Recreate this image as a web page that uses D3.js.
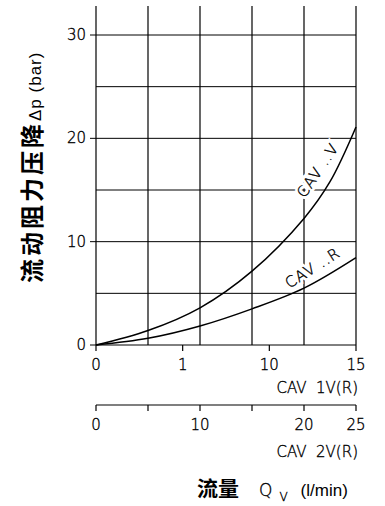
<!DOCTYPE html>
<html>
<head>
<meta charset="utf-8">
<script src="https://cdn.jsdelivr.net/npm/d3@7"></script>
<style>
  html, body { margin: 0; padding: 0; background: #fff; }
  svg { display: block; }
  .tick-font { font-family: "DejaVu Sans", sans-serif; font-weight: 200; font-size: 15px; fill: #000; stroke: #000; stroke-width: 0.35px; }
</style>
</head>
<body>
<svg id="chart" width="385" height="506"></svg>
<script>
// ---- data ----
const flowV = [0, 3, 6, 9, 12, 13.5, 15];           // CAV 1V(R) flow, l/min
const dpV = [0, 1.4, 3.6, 7.15, 12.25, 15.8, 21.1];  // CAV ..V pressure drop, bar
const flowR = [0, 3, 6, 9, 12, 15];
const dpR = [0, 0.65, 1.84, 3.5, 5.5, 8.45];         // CAV ..R pressure drop, bar

const yTicks = [0, 10, 20, 30];
const yTickLabels = ["0", "10", "20", "30"];
const yGrid = [0, 5, 10, 15, 20, 25, 30];
const yMax = 32.8;

const x1Grid = [0, 3, 6, 9, 12, 15];
const x1Ticks = [0, 5, 10, 15];
const x1TickLabels = ["0", "1", "10", "15"];
const x1Title = "CAV  1V(R)";

const x2Ticks = [0, 5, 10, 15, 20, 25];
const x2LabelTicks = [0, 10, 20, 25];
const x2TickLabels = ["0", "10", "20", "25"];
const x2Title = "CAV  2V(R)";

const curveLabels = [
  { text: "CAV ..V", x: 12.8, y: 16.9, angle: -56 },
  { text: "CAV ..R", x: 12.5, y: 7.45, angle: -32.5 }
];

// ---- layout ----
const svg = d3.select("#chart");
const left = 96, right = 356, bottom = 345, top30 = 35;
const x1 = d3.scaleLinear().domain([0, 15]).range([left, right]);
const x2 = d3.scaleLinear().domain([0, 25]).range([left, right]);
const y = d3.scaleLinear().domain([0, 30]).range([bottom, top30]);
const axis2Y = 405;

const g = svg.append("g");

// horizontal grid
g.selectAll("line.hgrid").data(yGrid).join("line")
  .attr("x1", left).attr("x2", right)
  .attr("y1", d => y(d)).attr("y2", d => y(d))
  .attr("stroke", "#000").attr("stroke-width", 1);

// vertical grid
g.selectAll("line.vgrid").data(x1Grid).join("line")
  .attr("x1", d => x1(d)).attr("x2", d => x1(d))
  .attr("y1", y(yMax)).attr("y2", y(0))
  .attr("stroke", "#000").attr("stroke-width", 1.2);

// y axis ticks (left)
g.selectAll("line.ytick").data(yTicks).join("line")
  .attr("x1", left - 6).attr("x2", left)
  .attr("y1", d => y(d)).attr("y2", d => y(d))
  .attr("stroke", "#000").attr("stroke-width", 1);
g.selectAll("text.ylab").data(yTicks).join("text")
  .attr("class", "tick-font")
  .attr("x", left - 10).attr("y", d => y(d))
  .attr("text-anchor", "end").attr("dominant-baseline", "central")
  .text((d, i) => yTickLabels[i]);

// axis 1 (bottom of plot)
g.selectAll("line.x1tick").data(x1Ticks).join("line")
  .attr("x1", d => x1(d)).attr("x2", d => x1(d))
  .attr("y1", bottom).attr("y2", bottom + 6)
  .attr("stroke", "#000").attr("stroke-width", 1.2);
g.selectAll("text.x1lab").data(x1Ticks).join("text")
  .attr("class", "tick-font")
  .attr("x", d => x1(d)).attr("y", bottom + 20)
  .attr("text-anchor", "middle").attr("dominant-baseline", "central")
  .text((d, i) => x1TickLabels[i]);
g.append("text").attr("class", "tick-font")
  .attr("x", right + 2).attr("y", bottom + 43)
  .attr("text-anchor", "end").attr("dominant-baseline", "central")
  .style("white-space", "pre")
  .text(x1Title);

// axis 2
g.append("line").attr("x1", left).attr("x2", right)
  .attr("y1", axis2Y).attr("y2", axis2Y)
  .attr("stroke", "#000").attr("stroke-width", 1.2);
g.selectAll("line.x2tick").data(x2Ticks).join("line")
  .attr("x1", d => x2(d)).attr("x2", d => x2(d))
  .attr("y1", axis2Y).attr("y2", axis2Y + 6)
  .attr("stroke", "#000").attr("stroke-width", 1.2);
g.selectAll("text.x2lab").data(x2LabelTicks).join("text")
  .attr("class", "tick-font")
  .attr("x", d => x2(d)).attr("y", axis2Y + 20)
  .attr("text-anchor", "middle").attr("dominant-baseline", "central")
  .text((d, i) => x2TickLabels[i]);
g.append("text").attr("class", "tick-font")
  .attr("x", right + 2).attr("y", axis2Y + 47)
  .attr("text-anchor", "end").attr("dominant-baseline", "central")
  .style("white-space", "pre")
  .text(x2Title);

// curve label halos (break the grid lines only)
curveLabels.forEach(l => {
  g.append("text").attr("class", "tick-font")
    .attr("transform", `translate(${x1(l.x)},${y(l.y)}) rotate(${l.angle})`)
    .attr("text-anchor", "middle").attr("dominant-baseline", "central")
    .style("white-space", "pre").style("letter-spacing", "1px")
    .style("stroke", "#fff").style("stroke-width", "6px").style("fill", "#fff")
    .text(l.text);
});

// curves
const line = d3.line().x(d => x1(d[0])).y(d => y(d[1])).curve(d3.curveCatmullRom.alpha(0.5));
[[flowV, dpV], [flowR, dpR]].forEach(([fx, fy]) => {
  g.append("path")
    .datum(fx.map((f, i) => [f, fy[i]]))
    .attr("d", line)
    .attr("fill", "none").attr("stroke", "#000").attr("stroke-width", 1.5);
});

// curve labels
curveLabels.forEach(l => {
  g.append("text").attr("class", "tick-font")
    .attr("transform", `translate(${x1(l.x)},${y(l.y)}) rotate(${l.angle})`)
    .attr("text-anchor", "middle").attr("dominant-baseline", "central")
    .style("white-space", "pre").style("letter-spacing", "1px")
    .text(l.text);
});

// y title
const yt = svg.append("text")
  .attr("transform", `translate(41,283) rotate(-90)`)
  .attr("text-anchor", "start");
yt.append("tspan")
  .style("font-family", '"Noto Sans CJK SC", sans-serif')
  .style("font-weight", "bold").style("font-size", "24px")
  .style("letter-spacing", "3px")
  .text("流动阻力压降");
yt.append("tspan")
  .style("font-family", '"Liberation Sans", Arial, sans-serif')
  .style("font-size", "17px").style("letter-spacing", "1px")
  .text("Δp (bar)");

// x title
const xt = svg.append("text").attr("x", 197).attr("y", 496);
xt.append("tspan")
  .style("font-family", '"Noto Sans CJK SC", sans-serif')
  .style("font-weight", "bold").style("font-size", "21px")
  .text("流量");
xt.append("tspan")
  .style("font-family", '"DejaVu Sans", sans-serif').style("font-weight", "200")
  .style("stroke", "#000").style("stroke-width", "0.35px")
  .style("font-size", "17px").attr("dx", 20)
  .text("Q");
xt.append("tspan")
  .style("font-family", '"DejaVu Sans", sans-serif').style("font-weight", "200")
  .style("stroke", "#000").style("stroke-width", "0.35px")
  .style("font-size", "12px").attr("dx", 7).attr("dy", 5)
  .text("V");
xt.append("tspan")
  .style("font-family", '"Liberation Sans", Arial, sans-serif')
  .style("font-size", "17px").attr("dx", 13).attr("dy", -5)
  .text("(l/min)");
</script>
</body>
</html>
